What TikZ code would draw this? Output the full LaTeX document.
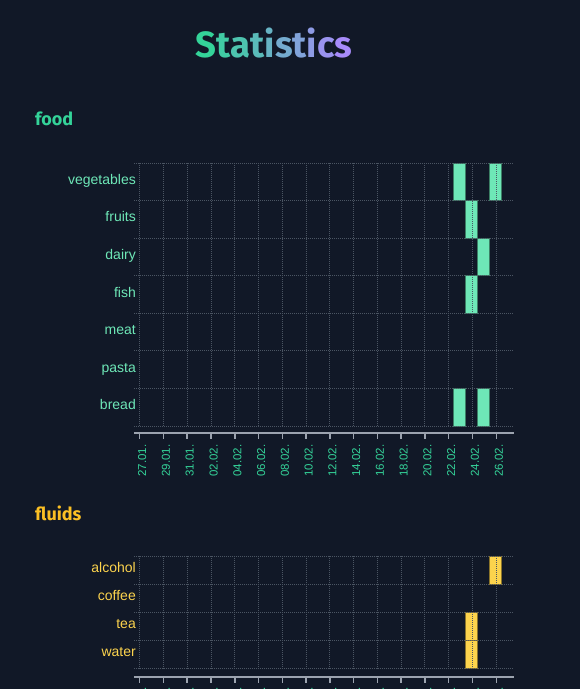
\documentclass[tikz,border=0pt]{standalone}
\usepackage{fontspec}
\setmainfont{Liberation Sans}
\newfontfamily\headfont{Fira Sans}
\definecolor{bg}{HTML}{111827}
\definecolor{emer}{HTML}{34D399}
\definecolor{emlight}{HTML}{6EE7B7}
\definecolor{amb}{HTML}{FBBF24}
\definecolor{amlight}{HTML}{FCD34D}
\definecolor{vio}{HTML}{A78BFA}
\definecolor{gridc}{HTML}{4B5563}
\definecolor{axisc}{HTML}{9CA3AF}
\begin{document}
\begin{tikzpicture}[x=1pt,y=-1pt,
  gridline/.style={draw=gridc, line width=0.9pt, dash pattern=on 1pt off 1pt},
  axisline/.style={draw=axisc, line width=2pt},
  tickline/.style={draw=axisc, line width=1.5pt},
  heading/.style={anchor=base west, inner sep=0, font=\headfont\bfseries\fontsize{18}{22}\selectfont},
  rowlabel/.style={anchor=base east, inner sep=0, font=\fontsize{14}{16}\selectfont},
  datelabel/.style={rotate=90, anchor=base east, inner sep=0, text=emer, font=\fontsize{11.5}{13}\selectfont},
  foodbar/.style={fill=emlight, draw=emlight!55!black, line width=0.6pt},
  fluidbar/.style={fill=amlight, draw=amlight!55!black, line width=0.6pt}]
\fill[bg] (0,0) rectangle (580,689);
\useasboundingbox (0,0) rectangle (580,689);
% title
\node[anchor=base, inner sep=0] (title) at (274,57.3) {\headfont\bfseries\fontsize{36.5}{40}\selectfont
  \textcolor{emer}{S}\textcolor{vio!11!emer}{t}\textcolor{vio!22!emer}{a}\textcolor{vio!33!emer}{t}\textcolor{vio!44!emer}{i}\textcolor{vio!56!emer}{s}\textcolor{vio!67!emer}{t}\textcolor{vio!78!emer}{i}\textcolor{vio!89!emer}{c}\textcolor{vio}{s}};
% ---------------- food ----------------
\node[heading, text=emer] (foodhead) at (35,125.7) {food};
\foreach \r/\d in {0/27,0/30,1/28,2/29,3/28,6/27,6/29}
  \filldraw[foodbar] ({138.7+11.885*\d-6.2},{163+37.57*\r}) rectangle ({138.7+11.885*\d+6.2},{163+37.57*(\r+1)});
\foreach \k in {0,...,7}
  \draw[gridline] (134,{163+37.57*\k}) -- (513,{163+37.57*\k});
\foreach \i in {0,...,15}
  \draw[gridline] ({139.7+23.77*\i},163) -- ({139.7+23.77*\i},426);
\foreach \k/\n in {0/vegetables,1/fruits,2/dairy,3/fish,4/meat,5/pasta,6/bread}
  \node[rowlabel, text=emlight] (food\k) at (136,{163+37.57*\k+21.3}) {\n};
\coordinate (fa1) at (134,433.3);
\coordinate (fa2) at (514,433.3);
\draw[axisline] (fa1) -- (fa2);
\foreach \i/\t in {0/27.01.,1/29.01.,2/31.01.,3/02.02.,4/04.02.,5/06.02.,6/08.02.,7/10.02.,8/12.02.,9/14.02.,10/16.02.,11/18.02.,12/20.02.,13/22.02.,14/24.02.,15/26.02.}{
  \draw[tickline] ({139.7+23.77*\i},433.3) -- ++(0,6);
  \node[datelabel] (fd\i) at ({139.7+23.77*\i+6.5},444.5) {\t};
}
% ---------------- fluids ----------------
\node[heading, text=amb] (fluidhead) at (35,520) {fluids};
\foreach \r/\d in {0/30,2/28,3/28}
  \filldraw[fluidbar] ({138.7+11.885*\d-6.2},{556+28.07*\r}) rectangle ({138.7+11.885*\d+6.2},{556+28.07*(\r+1)});
\foreach \k in {0,...,4}
  \draw[gridline] (134,{556+28.07*\k}) -- (513,{556+28.07*\k});
\foreach \i in {0,...,15}
  \draw[gridline] ({139.7+23.77*\i},556) -- ({139.7+23.77*\i},668.3);
\foreach \k/\n in {0/alcohol,1/coffee,2/tea,3/water}
  \node[rowlabel, text=amlight] (fluid\k) at (136,{556+28.07*\k+16}) {\n};
\coordinate (la1) at (134,676.7);
\coordinate (la2) at (514,676.7);
\draw[axisline] (la1) -- (la2);
\foreach \i/\t in {0/27.01.,1/29.01.,2/31.01.,3/02.02.,4/04.02.,5/06.02.,6/08.02.,7/10.02.,8/12.02.,9/14.02.,10/16.02.,11/18.02.,12/20.02.,13/22.02.,14/24.02.,15/26.02.}{
  \draw[tickline] ({139.7+23.77*\i},676.7) -- ++(0,6);
  \node[datelabel] (ld\i) at ({139.7+23.77*\i+6.5},686.6) {\t};
}
\end{tikzpicture}
\end{document}
